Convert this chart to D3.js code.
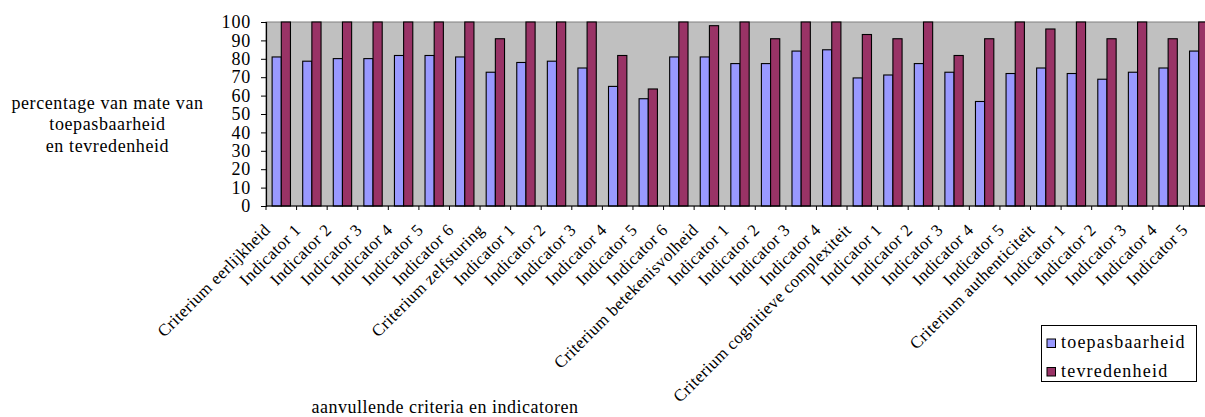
<!DOCTYPE html>
<html>
<head>
<meta charset="utf-8">
<script src="https://cdn.jsdelivr.net/npm/d3@7/dist/d3.min.js"></script>
<style>
  body { margin: 0; background: #fff; }
  text { font-family: "Liberation Serif", "Times New Roman", serif; fill: #000; }
</style>
</head>
<body>
<svg id="chart" width="1205" height="417"></svg>
<script>
// Criteria and their indicators, in the order they appear along the x axis
const categories = [
  "Criterium eerlijkheid", "Indicator 1", "Indicator 2", "Indicator 3", "Indicator 4", "Indicator 5", "Indicator 6",
  "Criterium zelfsturing", "Indicator 1", "Indicator 2", "Indicator 3", "Indicator 4", "Indicator 5", "Indicator 6",
  "Criterium betekenisvolheid", "Indicator 1", "Indicator 2", "Indicator 3", "Indicator 4",
  "Criterium cognitieve complexiteit", "Indicator 1", "Indicator 2", "Indicator 3", "Indicator 4", "Indicator 5",
  "Criterium authenticiteit", "Indicator 1", "Indicator 2", "Indicator 3", "Indicator 4", "Indicator 5"
];

// Percentages per category
const toepasbaarheid = [
  81.0, 78.7, 80.1, 80.1, 81.8, 81.8, 81.0,
  72.7, 78.0, 78.7, 75.0, 65.0, 58.3, 81.0,
  81.0, 77.4, 77.4, 84.2, 84.9,
  69.6, 71.2, 77.4, 72.7, 56.8, 72.0,
  75.0, 72.0, 68.9, 72.7, 75.0, 84.2
];
const tevredenheid = [
  100, 100, 100, 100, 100, 100, 100,
  90.9, 100, 100, 100, 81.8, 63.6, 100,
  98.0, 100, 90.9, 100, 100,
  93.2, 90.9, 100, 81.8, 90.9, 100,
  96.2, 100, 90.9, 100, 90.9, 100
];

const seriesNames = ["toepasbaarheid", "tevredenheid"];
const seriesColors = ["#9999FF", "#993366"];
const yTicks = [0, 10, 20, 30, 40, 50, 60, 70, 80, 90, 100];
const yTitleLines = ["percentage van mate van", "toepasbaarheid", "en tevredenheid"];
const xTitle = "aanvullende criteria en indicatoren";

const svg = d3.select("#chart");

const plot = { left: 266, right: 1214, top: 22, bottom: 206 };

const x = d3.scaleBand()
  .domain(d3.range(categories.length))
  .range([plot.left, plot.right])
  .paddingInner(0.4)
  .paddingOuter(0.2);

const xs = d3.scaleBand()
  .domain(seriesNames)
  .range([0, x.bandwidth()]);

const y = d3.scaleLinear().domain([0, 100]).range([plot.bottom, plot.top]);

// Plot area background and border
svg.append("rect")
  .attr("x", plot.left).attr("y", plot.top)
  .attr("width", plot.right - plot.left).attr("height", plot.bottom - plot.top)
  .attr("fill", "#C0C0C0")
  .attr("stroke", "#808080").attr("stroke-width", 1);

// Bars
const data = categories.map((c, i) => ({ i, values: [toepasbaarheid[i], tevredenheid[i]] }));
const groups = svg.append("g").selectAll("g")
  .data(data).join("g")
  .attr("transform", d => `translate(${x(d.i)},0)`);

groups.selectAll("rect")
  .data(d => d.values.map((v, k) => ({ v, k })))
  .join("rect")
  .attr("x", d => xs(seriesNames[d.k]))
  .attr("y", d => y(d.v))
  .attr("width", xs.bandwidth())
  .attr("height", d => y(0) - y(d.v))
  .attr("fill", d => seriesColors[d.k])
  .attr("stroke", "#000")
  .attr("stroke-width", 1.1);

// Y axis
const yAxis = svg.append("g")
  .attr("transform", `translate(${plot.left},0)`)
  .call(d3.axisLeft(y).tickValues(yTicks).tickSize(5).tickPadding(10));
yAxis.select(".domain").attr("stroke", "#000").attr("stroke-width", 1.2);
yAxis.selectAll(".tick line").attr("stroke", "#000");
yAxis.selectAll("text")
  .attr("font-size", 18)
  .attr("letter-spacing", "0.8px")
  .attr("font-family", "Liberation Serif, Times New Roman, serif")
  .attr("fill", "#000");

// X axis line and tick marks at category boundaries
svg.append("line")
  .attr("x1", plot.left).attr("x2", plot.right)
  .attr("y1", plot.bottom).attr("y2", plot.bottom)
  .attr("stroke", "#000").attr("stroke-width", 1.2);

const step = x.step();
const boundaries = d3.range(categories.length + 1).map(i => plot.left + i * step);
svg.append("g").selectAll("line")
  .data(boundaries).join("line")
  .attr("x1", d => d).attr("x2", d => d)
  .attr("y1", plot.bottom).attr("y2", plot.bottom + 4)
  .attr("stroke", "#000");

// Category labels, rotated
const xAxis = svg.append("g")
  .attr("transform", `translate(0,${plot.bottom})`)
  .call(d3.axisBottom(x).tickSize(0).tickFormat(i => categories[i]));
xAxis.select(".domain").remove();
xAxis.selectAll(".tick text")
  .attr("font-size", 17)
  .attr("letter-spacing", "0.4px")
  .attr("font-family", "Liberation Serif, Times New Roman, serif")
  .attr("fill", "#000")
  .attr("text-anchor", "end")
  .attr("x", 0).attr("y", 0).attr("dy", 0)
  .attr("transform", "translate(-10,25) rotate(-45)");

// Y title
svg.append("text")
  .attr("x", 107.5)
  .attr("font-size", 18)
  .attr("letter-spacing", "0.6px")
  .attr("text-anchor", "middle")
  .selectAll("tspan")
  .data(yTitleLines).join("tspan")
  .attr("x", 107.5)
  .attr("y", (d, i) => 108.5 + i * 21.7)
  .text(d => d);

// X title
svg.append("text")
  .attr("x", 445)
  .attr("y", 413)
  .attr("font-size", 18)
  .attr("letter-spacing", "0.5px")
  .attr("text-anchor", "middle")
  .text(xTitle);

// Legend
const legend = svg.append("g");
legend.append("rect")
  .attr("x", 1041.5).attr("y", 325.5)
  .attr("width", 155).attr("height", 56)
  .attr("fill", "#fff").attr("stroke", "#000");
const items = legend.selectAll("g.item")
  .data(seriesNames).join("g").attr("class", "item")
  .attr("transform", (d, i) => `translate(1047,${339 + i * 28.5})`);
items.append("rect")
  .attr("width", 8.5).attr("height", 8.5)
  .attr("fill", (d, i) => seriesColors[i])
  .attr("stroke", "#000");
items.append("text")
  .attr("x", 14).attr("y", 9)
  .attr("font-size", 18)
  .attr("letter-spacing", "1.2px")
  .text(d => d);
</script>
</body>
</html>
